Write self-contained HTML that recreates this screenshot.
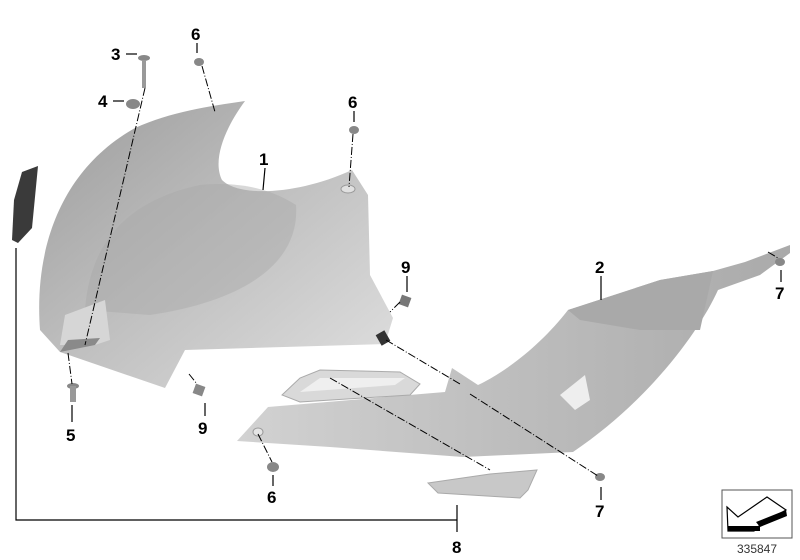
<!DOCTYPE html>
<html><head><style>
html,body{margin:0;padding:0;background:#fff;width:800px;height:560px;overflow:hidden}
svg{display:block}
text{font-family:"Liberation Sans",sans-serif;font-weight:bold;font-size:17px;fill:#000}
</style></head><body>
<svg width="800" height="560" viewBox="0 0 800 560" xmlns="http://www.w3.org/2000/svg">
<defs>
<linearGradient id="g1" x1="0" y1="0" x2="1" y2="1">
<stop offset="0" stop-color="#9c9c9c"/><stop offset="0.5" stop-color="#c0c0c0"/><stop offset="1" stop-color="#e0e0e0"/>
</linearGradient>
<linearGradient id="g2" x1="0" y1="0" x2="1" y2="0">
<stop offset="0" stop-color="#d2d2d2"/><stop offset="0.5" stop-color="#bdbdbd"/><stop offset="1" stop-color="#aaaaaa"/>
</linearGradient>
</defs>
<path d="M40,330 C34,250 60,170 135,128 C170,112 210,106 245,101 C225,128 212,160 222,180 C240,198 300,194 352,170 L368,195 L370,275 L393,318 L385,344 L185,350 L165,388 L60,352 Z" fill="url(#g1)"/>
<path d="M85,310 C90,240 130,200 200,185 C250,180 280,195 296,205 C300,260 250,300 150,315 Z" fill="#a8a8a8" opacity="0.45"/>
<path d="M60,345 L65,315 L105,300 L110,340 L95,345 Z" fill="#d6d6d6"/>
<path d="M60,352 L95,345 L100,338 L68,340 Z" fill="#8a8a8a"/>
<ellipse cx="348" cy="189" rx="7" ry="4" fill="#e0e0e0" stroke="#999"/>
<path d="M22,172 L38,166 L32,228 L18,243 L12,240 L14,200 Z" fill="#3a3a3a"/>
<path d="M237,441 L268,407 L445,392 L452,368 L478,385 C510,370 545,340 568,310 L660,280 L713,271 L745,262 L790,245 L790,253 L760,275 L718,290 C700,330 650,400 573,452 L463,457 L330,447 Z" fill="url(#g2)"/>
<path d="M568,310 L660,280 L713,271 L700,330 L640,330 L580,320 Z" fill="#a9a9a9"/>
<path d="M560,395 L585,375 L590,400 L575,410 Z" fill="#eeeeee"/>
<ellipse cx="258" cy="432" rx="5" ry="4" fill="#e5e5e5" stroke="#999"/>
<path d="M282,395 L300,378 L320,370 L400,372 L420,384 L410,395 L300,402 Z" fill="#d9d9d9" stroke="#aaa"/>
<path d="M300,392 L395,385 L405,378 L320,378 Z" fill="#efefef"/>
<path d="M428,483 L490,474 L537,470 L528,490 L520,498 L438,493 Z" fill="#c8c8c8" stroke="#aaa"/>
<ellipse cx="144" cy="58" rx="6" ry="3" fill="#888"/><rect x="142" y="60" width="4" height="28" fill="#999"/>
<ellipse cx="133" cy="104" rx="7" ry="5" fill="#888"/>
<ellipse cx="199" cy="62" rx="5" ry="4" fill="#888"/>
<ellipse cx="354" cy="130" rx="5" ry="4" fill="#888"/>
<rect x="400" y="296" width="10" height="10" fill="#777" transform="rotate(20 405 301)"/>
<rect x="378" y="332" width="10" height="12" fill="#333" transform="rotate(-30 383 338)"/>
<ellipse cx="73" cy="386" rx="6" ry="3" fill="#888"/><rect x="70" y="386" width="6" height="16" fill="#999"/>
<rect x="194" y="385" width="10" height="10" fill="#888" transform="rotate(20 199 390)"/>
<ellipse cx="273" cy="467" rx="6" ry="5" fill="#888"/>
<ellipse cx="600" cy="477" rx="5" ry="4" fill="#888"/>
<ellipse cx="780" cy="262" rx="5" ry="4" fill="#888"/>
<g stroke="#000" stroke-width="1" stroke-dasharray="8,2,1,2" fill="none">
<line x1="145" y1="88" x2="85" y2="345"/>
<line x1="202" y1="66" x2="215" y2="112"/>
<line x1="353" y1="134" x2="349" y2="187"/>
<line x1="386" y1="340" x2="460" y2="384"/>
<line x1="470" y1="394" x2="598" y2="476"/>
<line x1="330" y1="378" x2="490" y2="470"/>
<line x1="258" y1="434" x2="272" y2="462"/>
<line x1="400" y1="302" x2="390" y2="312"/>
<line x1="189" y1="374" x2="197" y2="384"/>
<line x1="68" y1="353" x2="72" y2="384"/>
<line x1="768" y1="252" x2="778" y2="258"/>
</g>
<g stroke="#000" stroke-width="1.2">
<line x1="126" y1="54" x2="137" y2="54"/>
<line x1="197" y1="43" x2="197" y2="53"/>
<line x1="113" y1="101" x2="124" y2="101"/>
<line x1="354" y1="111" x2="354" y2="122"/>
<line x1="265" y1="168" x2="263" y2="190"/>
<line x1="407" y1="276" x2="407" y2="292"/>
<line x1="601" y1="276" x2="601" y2="300"/>
<line x1="781" y1="270" x2="781" y2="282"/>
<line x1="72" y1="405" x2="72" y2="422"/>
<line x1="205" y1="403" x2="205" y2="416"/>
<line x1="273" y1="475" x2="273" y2="486"/>
<line x1="601" y1="487" x2="601" y2="500"/>
<polyline points="16,248 16,520 457,520" fill="none"/>
<line x1="457" y1="505" x2="457" y2="532"/>
</g>
<text x="111" y="60">3</text>
<text x="191" y="40">6</text>
<text x="98" y="107">4</text>
<text x="348" y="108">6</text>
<text x="259" y="165">1</text>
<text x="401" y="273">9</text>
<text x="595" y="273">2</text>
<text x="775" y="299">7</text>
<text x="66" y="441">5</text>
<text x="198" y="434">9</text>
<text x="267" y="503">6</text>
<text x="595" y="517">7</text>
<text x="452" y="553">8</text>
<rect x="722" y="490" width="70" height="48" fill="#fff" stroke="#555" stroke-width="1"/>
<path d="M727,507 L738,517 L767,497 L786,510 L760,525 L754,531 L728,531 Z" fill="#fff" stroke="#000" stroke-width="1.2"/>
<path d="M728,526 L760,526 L760,531 L728,531 Z" fill="#000"/>
<path d="M756,522 L786,510 L787,516 L760,527 Z" fill="#000"/>
<text x="757" y="553" text-anchor="middle" style="font-weight:normal;font-size:12px;fill:#333">335847</text>
</svg>
</body></html>
